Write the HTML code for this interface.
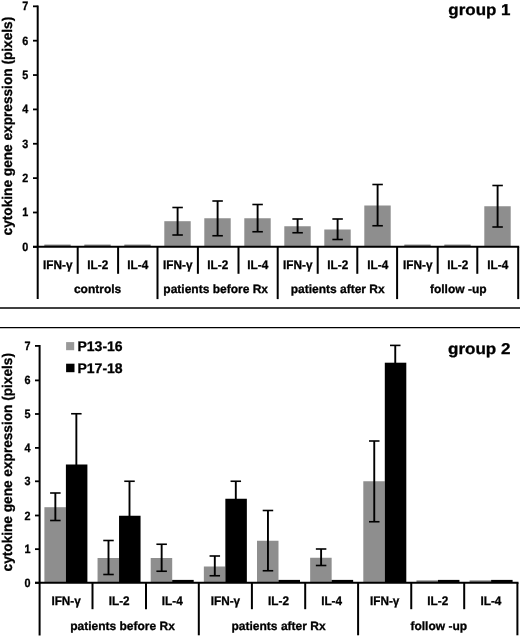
<!DOCTYPE html><html><head><meta charset="utf-8"><style>html,body{margin:0;padding:0;background:#fff;overflow:hidden}svg{display:block;filter:grayscale(1)}text{font-family:"Liberation Sans",sans-serif;font-weight:bold;fill:#000;stroke:#000;stroke-width:0.3px;text-rendering:geometricPrecision}</style></head><body>
<svg width="520" height="637" viewBox="0 0 520 637">
<rect width="520" height="637" fill="#fff"/>
<rect x="44.30" y="244.60" width="26.40" height="1.60" fill="#777"/>
<rect x="84.30" y="244.60" width="26.40" height="1.60" fill="#777"/>
<rect x="124.30" y="244.60" width="26.40" height="1.60" fill="#777"/>
<rect x="164.30" y="221.20" width="26.40" height="25.00" fill="#8e8e8e"/>
<line x1="177.60" y1="207.50" x2="177.60" y2="235.00" stroke="#000" stroke-width="1.9"/>
<line x1="172.35" y1="207.50" x2="182.85" y2="207.50" stroke="#000" stroke-width="1.6"/>
<line x1="172.35" y1="235.00" x2="182.85" y2="235.00" stroke="#000" stroke-width="1.6"/>
<rect x="204.30" y="218.25" width="26.40" height="27.95" fill="#8e8e8e"/>
<line x1="217.60" y1="201.00" x2="217.60" y2="235.75" stroke="#000" stroke-width="1.9"/>
<line x1="212.35" y1="201.00" x2="222.85" y2="201.00" stroke="#000" stroke-width="1.6"/>
<line x1="212.35" y1="235.75" x2="222.85" y2="235.75" stroke="#000" stroke-width="1.6"/>
<rect x="244.30" y="218.25" width="26.40" height="27.95" fill="#8e8e8e"/>
<line x1="257.60" y1="204.50" x2="257.60" y2="231.75" stroke="#000" stroke-width="1.9"/>
<line x1="252.35" y1="204.50" x2="262.85" y2="204.50" stroke="#000" stroke-width="1.6"/>
<line x1="252.35" y1="231.75" x2="262.85" y2="231.75" stroke="#000" stroke-width="1.6"/>
<rect x="284.30" y="226.25" width="26.40" height="19.95" fill="#8e8e8e"/>
<line x1="297.60" y1="219.00" x2="297.60" y2="232.75" stroke="#000" stroke-width="1.9"/>
<line x1="292.35" y1="219.00" x2="302.85" y2="219.00" stroke="#000" stroke-width="1.6"/>
<line x1="292.35" y1="232.75" x2="302.85" y2="232.75" stroke="#000" stroke-width="1.6"/>
<rect x="324.30" y="229.50" width="26.40" height="16.70" fill="#8e8e8e"/>
<line x1="337.60" y1="219.00" x2="337.60" y2="239.50" stroke="#000" stroke-width="1.9"/>
<line x1="332.35" y1="219.00" x2="342.85" y2="219.00" stroke="#000" stroke-width="1.6"/>
<line x1="332.35" y1="239.50" x2="342.85" y2="239.50" stroke="#000" stroke-width="1.6"/>
<rect x="364.30" y="205.50" width="26.40" height="40.70" fill="#8e8e8e"/>
<line x1="377.60" y1="184.50" x2="377.60" y2="225.75" stroke="#000" stroke-width="1.9"/>
<line x1="372.35" y1="184.50" x2="382.85" y2="184.50" stroke="#000" stroke-width="1.6"/>
<line x1="372.35" y1="225.75" x2="382.85" y2="225.75" stroke="#000" stroke-width="1.6"/>
<rect x="404.30" y="244.60" width="26.40" height="1.60" fill="#777"/>
<rect x="444.30" y="244.60" width="26.40" height="1.60" fill="#777"/>
<rect x="484.30" y="206.25" width="26.40" height="39.95" fill="#8e8e8e"/>
<line x1="497.60" y1="185.50" x2="497.60" y2="227.00" stroke="#000" stroke-width="1.9"/>
<line x1="492.35" y1="185.50" x2="502.85" y2="185.50" stroke="#000" stroke-width="1.6"/>
<line x1="492.35" y1="227.00" x2="502.85" y2="227.00" stroke="#000" stroke-width="1.6"/>
<line x1="37.70" y1="5.60" x2="37.70" y2="299.10" stroke="#000" stroke-width="2"/>
<line x1="33.00" y1="246.85" x2="519.20" y2="246.85" stroke="#000" stroke-width="2"/>
<line x1="33.00" y1="246.85" x2="37.70" y2="246.85" stroke="#000" stroke-width="1.8"/>
<text transform="translate(28.30,250.85) scale(0.9,1)" font-size="12" text-anchor="end">0</text>
<line x1="33.00" y1="212.49" x2="37.70" y2="212.49" stroke="#000" stroke-width="1.8"/>
<text transform="translate(28.30,216.49) scale(0.9,1)" font-size="12" text-anchor="end">1</text>
<line x1="33.00" y1="178.13" x2="37.70" y2="178.13" stroke="#000" stroke-width="1.8"/>
<text transform="translate(28.30,182.13) scale(0.9,1)" font-size="12" text-anchor="end">2</text>
<line x1="33.00" y1="143.77" x2="37.70" y2="143.77" stroke="#000" stroke-width="1.8"/>
<text transform="translate(28.30,147.77) scale(0.9,1)" font-size="12" text-anchor="end">3</text>
<line x1="33.00" y1="109.41" x2="37.70" y2="109.41" stroke="#000" stroke-width="1.8"/>
<text transform="translate(28.30,113.41) scale(0.9,1)" font-size="12" text-anchor="end">4</text>
<line x1="33.00" y1="75.05" x2="37.70" y2="75.05" stroke="#000" stroke-width="1.8"/>
<text transform="translate(28.30,79.05) scale(0.9,1)" font-size="12" text-anchor="end">5</text>
<line x1="33.00" y1="40.69" x2="37.70" y2="40.69" stroke="#000" stroke-width="1.8"/>
<text transform="translate(28.30,44.69) scale(0.9,1)" font-size="12" text-anchor="end">6</text>
<line x1="33.00" y1="6.33" x2="37.70" y2="6.33" stroke="#000" stroke-width="1.8"/>
<text transform="translate(28.30,10.33) scale(0.9,1)" font-size="12" text-anchor="end">7</text>
<line x1="77.70" y1="246.85" x2="77.70" y2="273.80" stroke="#000" stroke-width="2"/>
<line x1="118.10" y1="246.85" x2="118.10" y2="273.80" stroke="#000" stroke-width="2"/>
<line x1="157.50" y1="246.85" x2="157.50" y2="299.10" stroke="#000" stroke-width="2"/>
<line x1="197.90" y1="246.85" x2="197.90" y2="273.80" stroke="#000" stroke-width="2"/>
<line x1="238.50" y1="246.85" x2="238.50" y2="273.80" stroke="#000" stroke-width="2"/>
<line x1="277.70" y1="246.85" x2="277.70" y2="299.10" stroke="#000" stroke-width="2"/>
<line x1="317.70" y1="246.85" x2="317.70" y2="273.80" stroke="#000" stroke-width="2"/>
<line x1="357.30" y1="246.85" x2="357.30" y2="273.80" stroke="#000" stroke-width="2"/>
<line x1="397.10" y1="246.85" x2="397.10" y2="299.10" stroke="#000" stroke-width="2"/>
<line x1="437.70" y1="246.85" x2="437.70" y2="273.80" stroke="#000" stroke-width="2"/>
<line x1="477.30" y1="246.85" x2="477.30" y2="273.80" stroke="#000" stroke-width="2"/>
<line x1="518.20" y1="246.85" x2="518.20" y2="299.10" stroke="#000" stroke-width="2"/>
<text transform="translate(57.80,268.55) scale(0.95,1)" font-size="12.4" text-anchor="middle">IFN-γ</text>
<text transform="translate(97.80,268.55) scale(0.95,1)" font-size="12.4" text-anchor="middle">IL-2</text>
<text transform="translate(137.80,268.55) scale(0.95,1)" font-size="12.4" text-anchor="middle">IL-4</text>
<text transform="translate(177.80,268.55) scale(0.95,1)" font-size="12.4" text-anchor="middle">IFN-γ</text>
<text transform="translate(217.80,268.55) scale(0.95,1)" font-size="12.4" text-anchor="middle">IL-2</text>
<text transform="translate(257.80,268.55) scale(0.95,1)" font-size="12.4" text-anchor="middle">IL-4</text>
<text transform="translate(297.80,268.55) scale(0.95,1)" font-size="12.4" text-anchor="middle">IFN-γ</text>
<text transform="translate(337.80,268.55) scale(0.95,1)" font-size="12.4" text-anchor="middle">IL-2</text>
<text transform="translate(377.80,268.55) scale(0.95,1)" font-size="12.4" text-anchor="middle">IL-4</text>
<text transform="translate(417.80,268.55) scale(0.95,1)" font-size="12.4" text-anchor="middle">IFN-γ</text>
<text transform="translate(457.80,268.55) scale(0.95,1)" font-size="12.4" text-anchor="middle">IL-2</text>
<text transform="translate(497.80,268.55) scale(0.95,1)" font-size="12.4" text-anchor="middle">IL-4</text>
<text transform="translate(97.60,293.15) scale(1.0,1)" font-size="12" text-anchor="middle">controls</text>
<text transform="translate(215.70,293.15) scale(1.0,1)" font-size="12" text-anchor="middle">patients before Rx</text>
<text transform="translate(337.70,293.15) scale(1.0,1)" font-size="12" text-anchor="middle">patients after Rx</text>
<text transform="translate(458.25,293.15) scale(1.0,1)" font-size="12" text-anchor="middle">follow -up</text>
<text transform="translate(11.7,235.4) rotate(-90) scale(0.9755,1)" font-size="14">cytokine gene expression (pixels)</text>
<text transform="translate(448.3,15.3) scale(1.088,1)" font-size="15.6">group 1</text>
<line x1="0.00" y1="308.00" x2="520.00" y2="308.00" stroke="#000" stroke-width="1.3"/>
<line x1="0.00" y1="327.70" x2="520.00" y2="327.70" stroke="#000" stroke-width="1.3"/>
<rect x="44.40" y="507.20" width="21.50" height="74.80" fill="#8e8e8e"/>
<line x1="55.35" y1="493.00" x2="55.35" y2="520.50" stroke="#000" stroke-width="1.9"/>
<line x1="50.10" y1="493.00" x2="60.60" y2="493.00" stroke="#000" stroke-width="1.6"/>
<line x1="50.10" y1="520.50" x2="60.60" y2="520.50" stroke="#000" stroke-width="1.6"/>
<rect x="65.90" y="464.50" width="21.50" height="117.50" fill="#000"/>
<line x1="76.35" y1="413.75" x2="76.35" y2="465.50" stroke="#000" stroke-width="1.9"/>
<line x1="71.10" y1="413.75" x2="81.60" y2="413.75" stroke="#000" stroke-width="1.6"/>
<rect x="97.55" y="558.00" width="21.50" height="24.00" fill="#8e8e8e"/>
<line x1="108.50" y1="540.50" x2="108.50" y2="574.50" stroke="#000" stroke-width="1.9"/>
<line x1="103.25" y1="540.50" x2="113.75" y2="540.50" stroke="#000" stroke-width="1.6"/>
<line x1="103.25" y1="574.50" x2="113.75" y2="574.50" stroke="#000" stroke-width="1.6"/>
<rect x="119.05" y="515.75" width="21.50" height="66.25" fill="#000"/>
<line x1="129.50" y1="481.25" x2="129.50" y2="516.75" stroke="#000" stroke-width="1.9"/>
<line x1="124.25" y1="481.25" x2="134.75" y2="481.25" stroke="#000" stroke-width="1.6"/>
<rect x="150.70" y="558.00" width="21.50" height="24.00" fill="#8e8e8e"/>
<line x1="161.65" y1="544.25" x2="161.65" y2="571.25" stroke="#000" stroke-width="1.9"/>
<line x1="156.40" y1="544.25" x2="166.90" y2="544.25" stroke="#000" stroke-width="1.6"/>
<line x1="156.40" y1="571.25" x2="166.90" y2="571.25" stroke="#000" stroke-width="1.6"/>
<rect x="172.20" y="579.90" width="21.50" height="2.10" fill="#000"/>
<rect x="203.85" y="566.50" width="21.50" height="15.50" fill="#8e8e8e"/>
<line x1="214.80" y1="556.00" x2="214.80" y2="575.75" stroke="#000" stroke-width="1.9"/>
<line x1="209.55" y1="556.00" x2="220.05" y2="556.00" stroke="#000" stroke-width="1.6"/>
<line x1="209.55" y1="575.75" x2="220.05" y2="575.75" stroke="#000" stroke-width="1.6"/>
<rect x="225.35" y="498.75" width="21.50" height="83.25" fill="#000"/>
<line x1="235.80" y1="481.25" x2="235.80" y2="499.75" stroke="#000" stroke-width="1.9"/>
<line x1="230.55" y1="481.25" x2="241.05" y2="481.25" stroke="#000" stroke-width="1.6"/>
<rect x="257.00" y="540.75" width="21.50" height="41.25" fill="#8e8e8e"/>
<line x1="267.95" y1="510.50" x2="267.95" y2="570.75" stroke="#000" stroke-width="1.9"/>
<line x1="262.70" y1="510.50" x2="273.20" y2="510.50" stroke="#000" stroke-width="1.6"/>
<line x1="262.70" y1="570.75" x2="273.20" y2="570.75" stroke="#000" stroke-width="1.6"/>
<rect x="278.50" y="579.90" width="21.50" height="2.10" fill="#000"/>
<rect x="310.15" y="557.75" width="21.50" height="24.25" fill="#8e8e8e"/>
<line x1="321.10" y1="549.00" x2="321.10" y2="565.50" stroke="#000" stroke-width="1.9"/>
<line x1="315.85" y1="549.00" x2="326.35" y2="549.00" stroke="#000" stroke-width="1.6"/>
<line x1="315.85" y1="565.50" x2="326.35" y2="565.50" stroke="#000" stroke-width="1.6"/>
<rect x="331.65" y="579.90" width="21.50" height="2.10" fill="#000"/>
<rect x="363.30" y="481.25" width="21.50" height="100.75" fill="#8e8e8e"/>
<line x1="374.25" y1="441.00" x2="374.25" y2="521.75" stroke="#000" stroke-width="1.9"/>
<line x1="369.00" y1="441.00" x2="379.50" y2="441.00" stroke="#000" stroke-width="1.6"/>
<line x1="369.00" y1="521.75" x2="379.50" y2="521.75" stroke="#000" stroke-width="1.6"/>
<rect x="384.80" y="362.70" width="21.50" height="219.30" fill="#000"/>
<line x1="395.25" y1="345.40" x2="395.25" y2="363.70" stroke="#000" stroke-width="1.9"/>
<line x1="390.00" y1="345.40" x2="400.50" y2="345.40" stroke="#000" stroke-width="1.6"/>
<rect x="416.45" y="580.40" width="21.50" height="1.60" fill="#777"/>
<rect x="437.95" y="579.90" width="21.50" height="2.10" fill="#000"/>
<rect x="469.60" y="580.40" width="21.50" height="1.60" fill="#777"/>
<rect x="491.10" y="579.90" width="21.50" height="2.10" fill="#000"/>
<line x1="39.60" y1="345.00" x2="39.60" y2="635.40" stroke="#000" stroke-width="2"/>
<line x1="35.00" y1="582.80" x2="518.50" y2="582.80" stroke="#000" stroke-width="2"/>
<line x1="35.00" y1="582.80" x2="39.60" y2="582.80" stroke="#000" stroke-width="1.8"/>
<text transform="translate(30.50,586.80) scale(0.9,1)" font-size="12" text-anchor="end">0</text>
<line x1="35.00" y1="549.15" x2="39.60" y2="549.15" stroke="#000" stroke-width="1.8"/>
<text transform="translate(30.50,553.15) scale(0.9,1)" font-size="12" text-anchor="end">1</text>
<line x1="35.00" y1="515.50" x2="39.60" y2="515.50" stroke="#000" stroke-width="1.8"/>
<text transform="translate(30.50,519.50) scale(0.9,1)" font-size="12" text-anchor="end">2</text>
<line x1="35.00" y1="481.30" x2="39.60" y2="481.30" stroke="#000" stroke-width="1.8"/>
<text transform="translate(30.50,485.30) scale(0.9,1)" font-size="12" text-anchor="end">3</text>
<line x1="35.00" y1="447.90" x2="39.60" y2="447.90" stroke="#000" stroke-width="1.8"/>
<text transform="translate(30.50,451.90) scale(0.9,1)" font-size="12" text-anchor="end">4</text>
<line x1="35.00" y1="414.00" x2="39.60" y2="414.00" stroke="#000" stroke-width="1.8"/>
<text transform="translate(30.50,418.00) scale(0.9,1)" font-size="12" text-anchor="end">5</text>
<line x1="35.00" y1="380.40" x2="39.60" y2="380.40" stroke="#000" stroke-width="1.8"/>
<text transform="translate(30.50,384.40) scale(0.9,1)" font-size="12" text-anchor="end">6</text>
<line x1="35.00" y1="345.90" x2="39.60" y2="345.90" stroke="#000" stroke-width="1.8"/>
<text transform="translate(30.50,349.90) scale(0.9,1)" font-size="12" text-anchor="end">7</text>
<line x1="92.50" y1="582.80" x2="92.50" y2="609.20" stroke="#000" stroke-width="2"/>
<line x1="146.00" y1="582.80" x2="146.00" y2="609.20" stroke="#000" stroke-width="2"/>
<line x1="198.80" y1="582.80" x2="198.80" y2="635.30" stroke="#000" stroke-width="2"/>
<line x1="251.90" y1="582.80" x2="251.90" y2="609.20" stroke="#000" stroke-width="2"/>
<line x1="305.20" y1="582.80" x2="305.20" y2="609.20" stroke="#000" stroke-width="2"/>
<line x1="358.10" y1="582.80" x2="358.10" y2="635.30" stroke="#000" stroke-width="2"/>
<line x1="411.25" y1="582.80" x2="411.25" y2="609.20" stroke="#000" stroke-width="2"/>
<line x1="464.20" y1="582.80" x2="464.20" y2="609.20" stroke="#000" stroke-width="2"/>
<line x1="517.40" y1="582.80" x2="517.40" y2="635.30" stroke="#000" stroke-width="2"/>
<text transform="translate(66.10,605.00) scale(0.95,1)" font-size="12.4" text-anchor="middle">IFN-γ</text>
<text transform="translate(119.20,605.00) scale(0.95,1)" font-size="12.4" text-anchor="middle">IL-2</text>
<text transform="translate(172.30,605.00) scale(0.95,1)" font-size="12.4" text-anchor="middle">IL-4</text>
<text transform="translate(225.40,605.00) scale(0.95,1)" font-size="12.4" text-anchor="middle">IFN-γ</text>
<text transform="translate(278.50,605.00) scale(0.95,1)" font-size="12.4" text-anchor="middle">IL-2</text>
<text transform="translate(331.60,605.00) scale(0.95,1)" font-size="12.4" text-anchor="middle">IL-4</text>
<text transform="translate(384.70,605.00) scale(0.95,1)" font-size="12.4" text-anchor="middle">IFN-γ</text>
<text transform="translate(437.80,605.00) scale(0.95,1)" font-size="12.4" text-anchor="middle">IL-2</text>
<text transform="translate(490.90,605.00) scale(0.95,1)" font-size="12.4" text-anchor="middle">IL-4</text>
<text transform="translate(122.50,630.00) scale(1.0,1)" font-size="12" text-anchor="middle">patients before Rx</text>
<text transform="translate(278.55,630.00) scale(1.0,1)" font-size="12" text-anchor="middle">patients after Rx</text>
<text transform="translate(438.75,630.00) scale(1.0,1)" font-size="12" text-anchor="middle">follow -up</text>
<text transform="translate(11.7,571.4) rotate(-90) scale(0.9745,1)" font-size="14">cytokine gene expression (pixels)</text>
<text transform="translate(448.0,354.3) scale(1.092,1)" font-size="15.6">group 2</text>
<rect x="66.10" y="342.10" width="8.10" height="8.10" fill="#999"/>
<rect x="66.10" y="363.70" width="8.40" height="8.50" fill="#000"/>
<text x="77.5" y="350.8" font-size="14">P13-16</text>
<text x="77.5" y="372.6" font-size="14">P17-18</text>
</svg></body></html>
